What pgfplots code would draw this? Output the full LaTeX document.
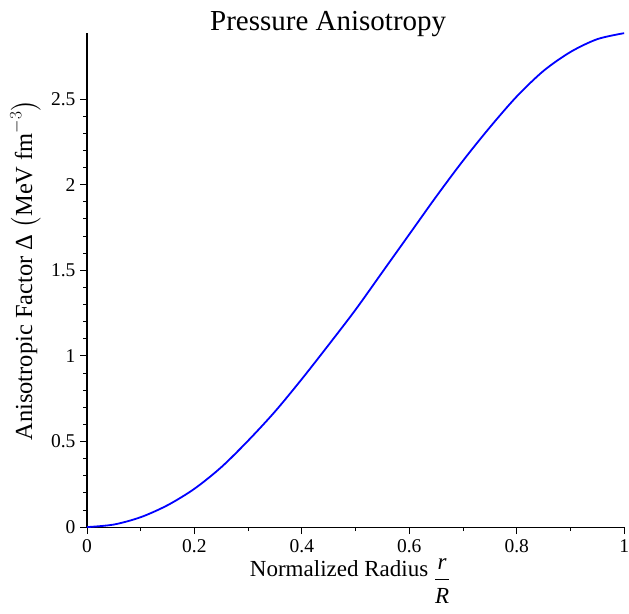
\documentclass[border=0pt]{standalone}
\usepackage{amsmath}
\usepackage{pgfplots}
\pgfplotsset{compat=1.18}
\usepackage{fontspec}
\setmainfont{Liberation Serif}

\begin{document}
\begin{tikzpicture}
\begin{axis}[
  scale only axis,
  width=537pt,
  height=494pt,
  xmin=0, xmax=1,
  ymin=0, ymax=2.886,
  axis lines=left,
  axis line style={-, line width=1.1pt},
  tick align=outside,
  xtick={0,0.2,0.4,0.6,0.8,1},
  xticklabels={0,0.2,0.4,0.6,0.8,1},
  ytick={0,0.5,1,1.5,2,2.5},
  yticklabels={0,0.5,1,1.5,2,2.5},
  minor x tick num=1,
  minor y tick num=4,
  major tick length=7pt,
  minor tick length=4pt,
  every tick/.style={black, line width=0.9pt},
  ticklabel style={font=\fontsize{19.5}{21}\selectfont},
  yticklabel style={xshift=-1pt},
  xticklabel style={yshift=-2pt, inner xsep=0pt},
  title={\rule{0pt}{31pt}Pressure Anisotropy},
  title style={font=\fontsize{29}{30}\selectfont, inner sep=0pt,
    at={(axis description cs:0.449,1)}, anchor=base, yshift=-4pt},
  xlabel={Normalized Radius \raisebox{-10pt}{$\displaystyle\frac{\textit{r}}{\textit{R}}$}\rule[-37pt]{0pt}{0pt}},
  ylabel={\rule{0pt}{32pt}Anisotropic Factor Δ $\left(\text{MeV fm}^{-3}\right)$},
  xlabel style={font=\fontsize{23}{26}\selectfont, inner sep=0pt,
    at={(axis description cs:0.49,-0.0992)}, anchor=base},
  ylabel style={font=\fontsize{24.5}{26}\selectfont, inner sep=0pt,
    at={(axis description cs:-0.1024,0.52)}, anchor=base},
  clip=false,
]
\addplot[color={rgb,255:red,0;green,0;blue,255}, line width=1.8pt, smooth] coordinates {
  (0,0) (0.05,0.015) (0.1,0.058) (0.15,0.128) (0.2,0.224)
  (0.25,0.35) (0.3,0.505) (0.35,0.675) (0.4,0.865) (0.45,1.065)
  (0.5,1.27) (0.55,1.49) (0.6,1.71) (0.65,1.93) (0.7,2.14)
  (0.75,2.335) (0.8,2.515) (0.85,2.665) (0.9,2.775) (0.95,2.85)
  (1.0,2.885)
};
\end{axis}
\end{tikzpicture}
\end{document}
